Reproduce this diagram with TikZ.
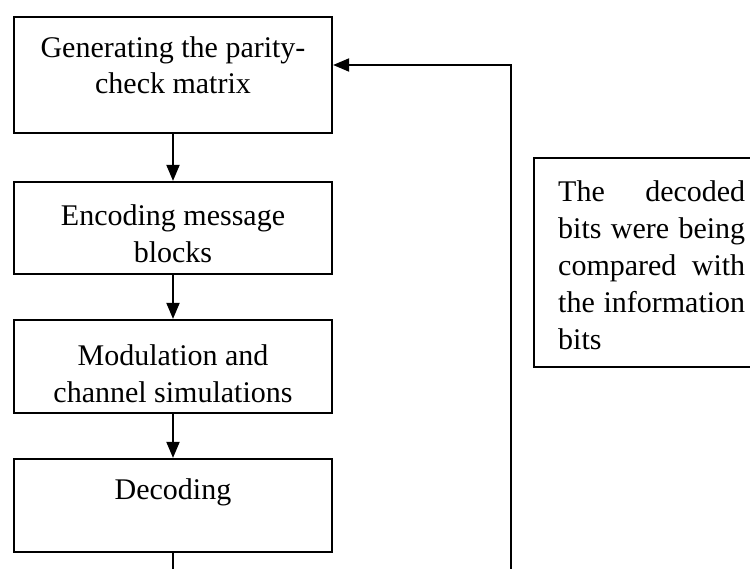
\documentclass[tikz,border=0pt]{standalone}
\usepackage{fontspec}
\setmainfont{Liberation Serif}
\usetikzlibrary{arrows.meta}
\begin{document}
\begin{tikzpicture}[x=1pt,y=-1pt,
  stepbox/.style={draw, line width=2.2pt, minimum width=318pt, inner sep=0pt},
  lbl/.style={font=\fontsize{30}{36.5}\selectfont, align=center, inner sep=0pt},
  conn/.style={line width=1.9pt, -{Triangle[length=16pt,width=13pt]}}]
\useasboundingbox (0,0) rectangle (750,569);
\clip (0,0) rectangle (750,569);
% left column boxes
\node[stepbox, minimum height=116pt] (gen) at (173,75) {};
\node[lbl] (gent) at (173,65) {Generating the parity-\\check matrix};
\node[stepbox, minimum height=92pt] (enc) at (173,228) {};
\node[lbl] (enct) at (173,233.5) {Encoding message\\blocks};
\node[stepbox, minimum height=93pt] (mod) at (173,366.5) {};
\node[lbl] (modt) at (173,373.5) {Modulation and\\channel simulations};
\node[stepbox, minimum height=93pt] (dec) at (173,505.5) {};
\node[lbl] (dect) at (173,492) {Decoding};
% comparison box on the right
\node[draw, line width=2.2pt, anchor=north west, minimum width=240pt, minimum height=209pt, inner sep=0pt] (cmp) at (533,157) {};
\node[anchor=north west, inner sep=0pt, align=left, font=\fontsize{30}{37}\selectfont] (cmpt) at (558,180)
  {\makebox[187pt][s]{The decoded}\\
   \makebox[187pt][s]{bits were being}\\
   \makebox[187pt][s]{compared with}\\
   \makebox[187pt][s]{the information}\\
   bits};
% connectors
\draw[conn] (gen) -- (enc);
\draw[conn] (enc) -- (mod);
\draw[conn] (mod) -- (dec);
\coordinate (fbtop) at (511,65);
\coordinate (lb) at (511,610);
\draw[conn] (dec.south) |- (lb) -- (fbtop) -- (gen.east |- fbtop);
\end{tikzpicture}
\end{document}
